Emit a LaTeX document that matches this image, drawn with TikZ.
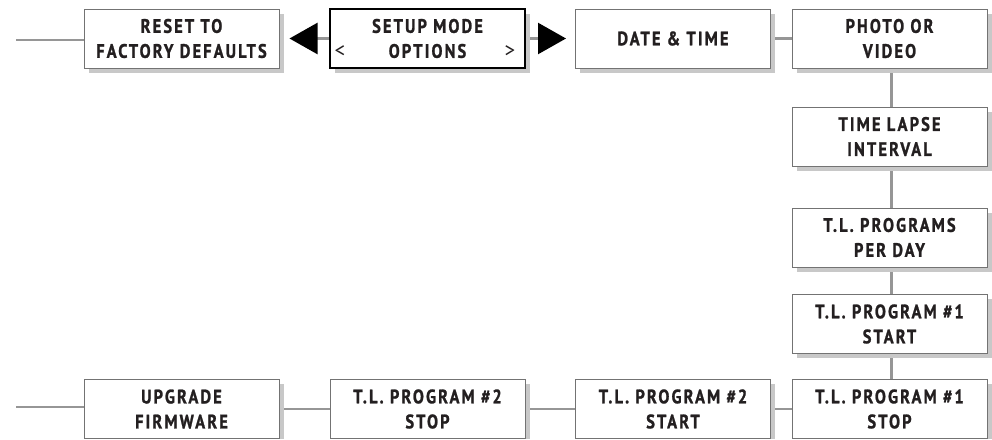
\documentclass[tikz,border=0pt]{standalone}
\usepackage{fontspec}
\newfontfamily\boxfont[FakeStretch=0.84,LetterSpace=11,FakeBold=1.2]{PT Sans}
\newfontfamily\markfont{PT Sans}
\usetikzlibrary{arrows.meta,backgrounds}
\definecolor{boxline}{RGB}{115,115,115}
\definecolor{conn}{RGB}{150,150,150}
\definecolor{shadowc}{RGB}{200,200,200}
\definecolor{txt}{RGB}{35,31,32}
\tikzset{
  menubox/.style={draw=boxline, line width=1pt, fill=white, minimum width=195pt, minimum height=59pt,
    inner sep=0pt, align=center, text=txt,
    font=\boxfont\bfseries\fontsize{19.5}{25}\selectfont},
  activebox/.style={menubox, draw=black, line width=2pt},
  conn/.style={draw=conn, line width=2.4pt},
  boxshadow/.style={fill=shadowc},
  bigarrow/.style={conn, -{Triangle[length=28pt,width=31pt,black]}},
  markstyle/.style={inner sep=0pt, text=txt, font=\markfont\fontsize{21}{21}\selectfont}
}
\begin{document}
\begin{tikzpicture}[x=1pt,y=-1pt]
\useasboundingbox (0,0) rectangle (992,439);
% shadows (drawn first, under everything)
\fill[boxshadow] (88.5,13.5) rectangle (283.5,72.5);
\fill[boxshadow] (334.5,13.5) rectangle (529.5,72.5);
\fill[boxshadow] (580,13.5) rectangle (775,72.5);
\fill[boxshadow] (796.5,13.5) rectangle (991.5,72.5);
\fill[boxshadow] (796.5,111.5) rectangle (991.5,170.5);
\fill[boxshadow] (796.5,212.5) rectangle (991.5,271.5);
\fill[boxshadow] (796.5,299) rectangle (991.5,358);
\fill[boxshadow] (796.5,384) rectangle (991.5,439);
\fill[boxshadow] (580,384) rectangle (775,439);
\fill[boxshadow] (334.5,384) rectangle (529.5,439);
\fill[boxshadow] (88.5,384) rectangle (283.5,439);
% connector line placeholders are drawn after nodes on the background layer
% top row
\node[menubox] (reset) at (181.5,38.5) {RESET TO\\FACTORY DEFAULTS};
\node[activebox] (setup) at (427.5,38.5) {SETUP MODE\\OPTIONS};
\node[menubox] (date) at (673,38.5) {DATE \& TIME};
\node[menubox] (photo) at (889.5,38.5) {PHOTO OR\\VIDEO};
% column
\node[menubox] (tli) at (889.5,136.5) {TIME LAPSE\\INTERVAL};
\node[menubox] (tlp) at (889.5,237.5) {T.L. PROGRAMS\\PER DAY};
\node[menubox] (p1start) at (889.5,324) {T.L. PROGRAM \#1\\START};
\node[menubox] (p1stop) at (889.5,409) {T.L. PROGRAM \#1\\STOP};
% bottom row
\node[menubox] (p2start) at (673,409) {T.L. PROGRAM \#2\\START};
\node[menubox] (p2stop) at (427.5,409) {T.L. PROGRAM \#2\\STOP};
\node[menubox] (upgrade) at (181.5,409) {UPGRADE\\FIRMWARE};
% markers
\node[markstyle] (lt) at (340,52) {<};
\node[markstyle] (gt) at (510,52) {>};
% free ends
\coordinate (topfree) at (16,40);
\coordinate (botfree) at (16,407);
\coordinate (colx) at (891.5,0);
% connectors
\begin{scope}[on background layer]
\draw[conn] (topfree) -- (reset.west |- topfree);
\draw[conn] (botfree) -- (upgrade.west |- botfree);
\draw[bigarrow, shorten >=10pt] (setup.west) -- (reset.east);
\draw[bigarrow, shorten >=9pt] (setup.east) -- (date.west);
\draw[conn] (date) -- (photo);
\draw[conn] (photo.south -| colx) -- (tli.north -| colx);
\draw[conn] (tli.south -| colx) -- (tlp.north -| colx);
\draw[conn] (tlp.south -| colx) -- (p1start.north -| colx);
\draw[conn] (p1start.south -| colx) -- (p1stop.north -| colx);
\draw[conn] (p1stop) -- (p2start);
\draw[conn] (p2start) -- (p2stop);
\draw[conn] (p2stop) -- (upgrade);
\end{scope}
\end{tikzpicture}
\end{document}
